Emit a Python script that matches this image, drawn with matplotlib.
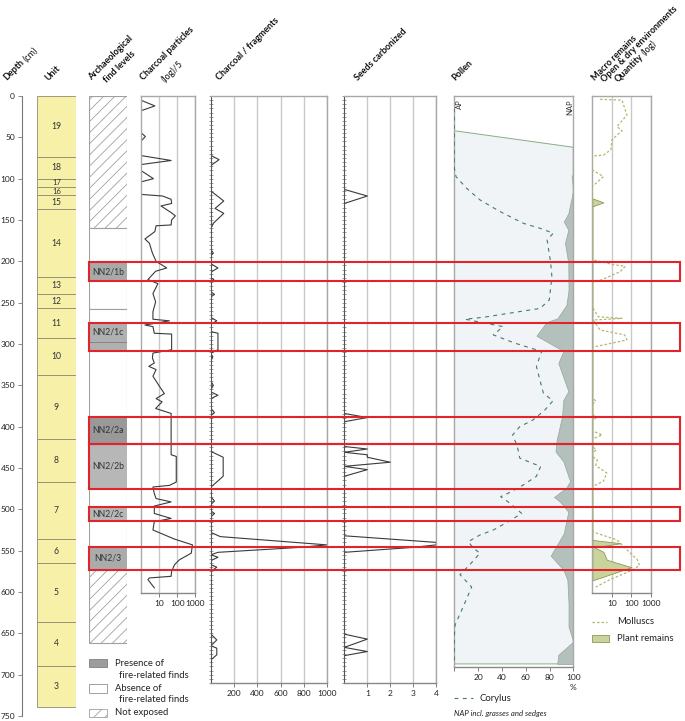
import matplotlib
matplotlib.use('Agg')
import matplotlib.pyplot as plt
from matplotlib.patches import Rectangle
from matplotlib.ticker import MultipleLocator, NullLocator
import numpy as np

plt.rcParams['font.family'] = ['Lato', 'DejaVu Sans']
plt.rcParams['hatch.linewidth'] = 0.6
plt.rcParams['hatch.color'] = '#a8a8a8'

W, H = 685, 721

# ---------------- data ----------------
depth_ticks = list(range(0, 751, 50))

unit_labels = ['19', '18', '17', '16', '15', '14', '13', '12', '11', '10', '9', '8', '7', '6', '5', '4', '3']
unit_tops = [0, 74, 100, 110, 120, 137, 219, 240, 257, 293, 338, 415, 467, 536, 565, 636, 689]
unit_bottoms = [74, 100, 110, 120, 137, 219, 240, 257, 293, 338, 415, 467, 536, 565, 636, 689, 739]

exposure_tops = [0, 160, 258, 573]
exposure_bottoms = [160, 258, 573, 662]
exposure_hatched = [True, False, False, True]

find_labels = ['NN2/1b', 'NN2/1c', 'NN2/2a', 'NN2/2b', 'NN2/2c', 'NN2/3']
find_tops = [201, 274, 388, 421, 497, 545]
find_bottoms = [224, 308, 421, 475, 514, 573]
find_label_depths = [212.5, 285.5, 404.5, 448, 505.5, 559]
find_greys = ['#a9a9a9', '#b0b0b0', '#999999', '#b7b7b7', '#b7b7b7', '#ababab']
find_subdivisions = [297]

# Charcoal particles (log)/5
cp_depth = [5, 12, 18, 44, 49, 55, 72, 78, 83, 90, 100, 104, 119, 121, 125, 130, 133, 141, 145, 150,
            156, 157, 164, 173, 178, 190, 200, 208, 212, 222, 227, 239, 249, 261, 270, 272, 277, 279,
            287, 288, 307, 311, 317, 323, 327, 331, 339, 354, 360, 366, 370, 378, 384, 434, 436, 467,
            471, 473, 481, 487, 491, 496, 505, 511, 515, 525, 536, 543, 553, 561, 567, 575, 581, 583,
            585, 595]
cp_vals = [1, 6, 1, 1, 1.8, 1, 1, 47, 1, 1, 5, 1, 1, 16, 47, 50, 13, 47, 80, 50,
           47, 7, 6, 1.7, 3, 4.4, 7, 27, 6.6, 2.5, 8.8, 4.7, 6.6, 4.7, 4.7, 38, 1.7, 4.7,
           5.6, 50, 50, 4.7, 4.4, 5.6, 2.8, 7, 4.7, 13, 20, 7, 15, 6.6, 47, 47, 90, 90,
           38, 4.7, 5.6, 7, 47, 5.6, 5.6, 47, 5.6, 4.7, 72, 700, 600, 135, 72, 50, 47, 3,
           2.5, 5.6]
cp_ticks = [10, 100, 1000]
cp_ticklabels = ['10', '100', '1000']

# Charcoal / fragments
cf_depth = [0, 72, 77, 84, 115, 127, 136, 142, 154, 160, 186, 190, 193, 203, 208, 213, 220, 222, 225,
            237, 240, 243, 268, 272, 276, 285, 287, 307, 311, 316, 320, 345, 350, 355, 358, 362, 366,
            378, 383, 386, 430, 434, 437, 460, 473, 485, 490, 494, 502, 505, 509, 528, 533, 543, 546,
            552, 555, 558, 562, 567, 570, 575, 651, 658, 665, 668, 676, 682, 710]
cf_vals = [0, 0, 70, 0, 0, 110, 35, 110, 20, 0, 0, 20, 0, 0, 60, 0, 0, 25, 0,
           0, 30, 0, 0, 50, 0, 0, 60, 60, 0, 15, 0, 0, 20, 0, 0, 60, 0,
           0, 30, 0, 0, 60, 105, 105, 0, 0, 30, 0, 0, 30, 0, 0, 80, 1000, 770,
           60, 0, 60, 0, 0, 50, 0, 0, 50, 0, 50, 50, 0, 0]
cf_ticks = [200, 400, 600, 800, 1000]
cf_ticklabels = ['200', '400', '600', '800', '1000']

# Seeds carbonized
sd_depth = [0, 113, 121, 130, 384, 389, 394, 424, 427, 431, 434, 437, 443, 448, 452, 460,
            532, 540, 543, 546, 552, 651, 657, 667, 672, 677, 710]
sd_vals = [0, 0, 1, 0, 0, 1, 0, 0, 1, 0, 1, 1, 2, 0, 1, 0,
           0, 4, 4, 3, 0, 0, 1, 0, 1, 0, 0]
sd_ticks = [1, 2, 3, 4]
sd_ticklabels = ['1', '2', '3', '4']

# Pollen (%), AP/NAP boundary and Corylus
pollen_top_left, pollen_top_right, pollen_bottom = 42, 62, 687
nap_depth = [93.5, 97.5, 113.6, 142, 152, 162, 178, 202, 235, 253, 269, 273.5, 290, 305, 309, 323,
             357, 368, 388, 416, 430, 442, 466, 474, 485, 491, 503, 515, 529, 556, 565, 573, 585,
             614, 642, 660, 665, 676, 687]
nap_ap = [100, 98.6, 100, 95.8, 92, 95.8, 93, 95.8, 96, 94.2, 86.6, 77.6, 69, 87.4, 91.6, 87.4,
          95.8, 91.6, 90.5, 86, 85, 91.6, 97.3, 94, 83.8, 89, 95.8, 94, 92, 81, 86.6, 91.6, 95,
          96, 96, 100, 96, 87.4, 86.5]
cor_depth = [15, 87, 97.5, 111.7, 125.7, 139.8, 154, 160, 166, 174, 202, 218.5, 246.8, 257, 262,
             267.7, 270, 279, 289, 299, 309, 327, 344, 360, 368.6, 380, 392, 400, 410, 424, 438,
             444, 448, 460, 470.5, 478.6, 484.6, 492.8, 505, 516, 525, 531, 539, 547, 553, 567,
             579, 594, 622, 640, 654, 686]
cor_vals = [0, 0, 1.4, 10.4, 21.6, 38.4, 58, 72, 83.2, 78, 81, 82, 79.8, 72, 49.6,
            24.4, 9, 41, 32.8, 51, 73.4, 69, 72, 75, 83, 76, 66, 55, 49, 53, 55,
            65, 72.6, 69, 58, 48, 39, 47, 56.6, 44, 32.8, 21.6, 11.8, 16, 21.6, 13,
            4.8, 14.6, 6.2, 0.6, 0, 0]
pollen_ticks = [0, 20, 40, 60, 80, 100]
pollen_ticklabels = ['', '20', '40', '60', '80', '100']

# Macro remains (log)
mol_depth = [4, 5, 23, 37, 42, 53, 65, 71.5, 72.6, 89.5, 97.5, 109.6, 198, 204, 206, 212.5, 222,
             226, 255, 267, 269, 271, 283, 289, 295, 304, 365, 369, 373, 385, 389, 393, 405, 410,
             415, 424, 428, 432, 436, 440, 447, 456, 466, 472.6, 527, 537, 549, 561, 568, 574,
             585, 594]
mol_vals = [2.5, 33, 59, 18, 33, 10, 8.9, 3.7, 1, 1, 3.7, 1, 1, 12, 48, 27, 3.2,
            1, 1, 2, 33, 1.1, 2.5, 45, 59, 1, 1, 1.5, 1, 1, 1.6, 1, 1, 3.2,
            1, 1, 1.6, 1, 1, 1.8, 1.5, 5.5, 3.7, 1, 1, 18, 59, 200, 260, 100,
            8, 1.5]
plant_depth = [123.8, 128.7, 133.5, 537, 541, 546, 551.5, 561, 570, 586]
plant_vals = [1, 3.7, 1, 1, 28, 1.3, 3.7, 5.5, 100, 1]
macro_ticks = [10, 100, 1000]
macro_ticklabels = ['10', '100', '1000']

# ---------------- layout helpers ----------------
Y0, PXCM = 96.0, 620.0 / 750.0
fig = plt.figure(figsize=(W / 100, H / 100), dpi=100)


def ypx(d):
    return Y0 + d * PXCM


def axpx(x0, x1, y0, y1, **kw):
    return fig.add_axes([x0 / W, 1 - y1 / H, (x1 - x0) / W, (y1 - y0) / H], **kw)


def ftext(x, y, s, **kw):
    return fig.text(x / W, 1 - y / H, s, **kw)


LINE = '#3a3a3a'
SPINE = '#a8a8a8'
GRID = '#c9c9c9'
TICKFS = 6


def panel(ax, xlim, ybottom, ticks, labels, log=False, left_dark=False):
    if log:
        ax.set_xscale('log')
    ax.set_xlim(*xlim)
    ax.set_ylim(ybottom, 0)
    ax.patch.set_alpha(0)
    for name, s in ax.spines.items():
        s.set_color(SPINE)
        s.set_linewidth(1.0)
    ax.spines['bottom'].set_color('#888888')
    if left_dark:
        ax.spines['left'].set_color('#555555')
        ax.spines['left'].set_linewidth(0.8)
        ax.yaxis.set_major_locator(MultipleLocator(5))
        ax.tick_params(axis='y', direction='inout', length=2.2, width=0.5, colors='#777777',
                       labelleft=False)
    else:
        ax.yaxis.set_major_locator(NullLocator())
    ax.yaxis.set_minor_locator(NullLocator())
    ax.set_xticks(ticks)
    ax.set_xticklabels(labels)
    ax.xaxis.set_minor_locator(NullLocator())
    ax.tick_params(axis='x', length=3, width=0.6, colors='#666666', labelsize=TICKFS, pad=2,
                   labelcolor='#222222')
    ax.grid(axis='x', color=GRID, lw=1.0)
    ax.set_axisbelow(True)


# ---------------- depth axis ----------------
axd = axpx(22, 30, ypx(0), ypx(750))
axd.set_ylim(750, 0)
axd.patch.set_alpha(0)
for n in ['top', 'right', 'bottom']:
    axd.spines[n].set_visible(False)
axd.spines['left'].set_color('#777777')
axd.spines['left'].set_linewidth(0.8)
axd.set_xticks([])
axd.set_yticks(depth_ticks)
axd.tick_params(axis='y', length=3, width=0.6, colors='#777777', labelsize=TICKFS, pad=2,
                labelcolor='#222222')

# ---------------- unit column ----------------
axu = axpx(37, 76, ypx(0), ypx(750))
axu.set_xlim(0, 1)
axu.set_ylim(750, 0)
axu.axis('off')
for lab, t, b in zip(unit_labels, unit_tops, unit_bottoms):
    axu.bar(0.5, b - t, bottom=t, width=1, color='#f6f0a8', edgecolor='#8e8c70', lw=0.6)
    fs = 5.5 if b - t < 15 else 6.2
    axu.text(0.5, (t + b) / 2, lab, ha='center', va='center', fontsize=fs, color='#333333')

# ---------------- archaeological find levels ----------------
axa = axpx(89, 127, ypx(0), ypx(750))
axa.set_xlim(0, 1)
axa.set_ylim(750, 0)
axa.axis('off')
for t, b, h in zip(exposure_tops, exposure_bottoms, exposure_hatched):
    axa.bar(0.5, b - t, bottom=t, width=1, color='white', edgecolor='#a0a0a0', lw=0.8,
            hatch='///' if h else None)
for lab, t, b, c, ly in zip(find_labels, find_tops, find_bottoms, find_greys, find_label_depths):
    axa.bar(0.5, b - t, bottom=t, width=1, color=c, edgecolor='#808080', lw=0.6)
    axa.text(0.5, ly, lab, ha='center', va='center', fontsize=6.2, color='#333333')
for d in find_subdivisions:
    axa.axhline(d, color='#808080', lw=0.6)

# ---------------- charcoal particles ----------------
axcp = axpx(140.7, 195.3, ypx(0), ypx(601))
panel(axcp, (1, 1000), 601, cp_ticks, cp_ticklabels, log=True)
axcp.plot(cp_vals, cp_depth, color=LINE, lw=0.8)

# ---------------- charcoal fragments ----------------
axcf = axpx(211, 327, ypx(0), ypx(710))
panel(axcf, (0, 1000), 710, cf_ticks, cf_ticklabels, left_dark=True)
axcf.plot(cf_vals, cf_depth, color=LINE, lw=0.8)

# ---------------- seeds ----------------
axs = axpx(344.3, 436.3, ypx(0), ypx(710))
panel(axs, (0, 4), 710, sd_ticks, sd_ticklabels, left_dark=True)
axs.plot(sd_vals, sd_depth, color=LINE, lw=0.8)

# ---------------- pollen ----------------
axp = axpx(454.3, 573.3, ypx(0), ypx(690.7))
panel(axp, (0, 100), 690.7, pollen_ticks, pollen_ticklabels)
axp.grid(False)
axp.fill([0, 100, 100, 0], [pollen_top_left, pollen_top_right, pollen_bottom, pollen_bottom],
         facecolor='#f1f4f6', edgecolor='#86ad88', lw=0.7, zorder=1)
axp.fill_betweenx(nap_depth, nap_ap, 100, facecolor='#b4c0bb', edgecolor='#95a89b', lw=0.5,
                  zorder=2)
axp.plot(cor_vals, cor_depth, color='#3f7f5f', lw=0.8, dashes=(3.5, 4), zorder=3)
ftext(459.5, 99, 'AP', rotation=90, ha='center', va='top', fontsize=5.5, color='#333333')
ftext(569.5, 99, 'NAP', rotation=90, ha='center', va='top', fontsize=5.5, color='#333333')
ftext(572.5, 688, '%', ha='center', va='center', fontsize=TICKFS, color='#222222')

# ---------------- macro remains ----------------
axm = axpx(592.3, 651, ypx(0), ypx(601))
panel(axm, (1, 1000), 601, macro_ticks, macro_ticklabels, log=True)
axm.fill_betweenx(plant_depth, 1, plant_vals, facecolor='#c9d39b', edgecolor='#8a9a5a', lw=0.6,
                  zorder=2)
axm.plot(mol_vals, mol_depth, color='#b5b56e', lw=0.9, dashes=(2, 1.6), zorder=3)

# ---------------- red highlight boxes ----------------
axr = axpx(89, 680, ypx(0), ypx(750))
axr.set_xlim(0, 1)
axr.set_ylim(750, 0)
axr.axis('off')
axr.set_zorder(20)
for t, b in zip(find_tops, find_bottoms):
    axr.add_patch(Rectangle((0, t), 1, b - t, fill=False, edgecolor='#e3232a', lw=1.5,
                            clip_on=False))

# ---------------- legends (pixel overlay) ----------------
axl = axpx(0, W, 0, H)
axl.set_xlim(0, W)
axl.set_ylim(H, 0)
axl.axis('off')
axl.set_zorder(-1)
axl.add_patch(Rectangle((89.3, 659.3), 17.4, 8, facecolor='#9d9d9d', edgecolor='#808080', lw=0.6))
axl.add_patch(Rectangle((89.3, 684), 17.4, 8.7, facecolor='white', edgecolor='#909090', lw=0.6))
axl.add_patch(Rectangle((89.3, 709), 17.4, 7.7, facecolor='white', edgecolor='#a0a0a0', lw=0.6,
                        hatch='///'))
LFS = 6.8
ftext(114.7, 663.5, 'Presence of', va='center', fontsize=LFS, color='#222222')
ftext(119.3, 675, 'fire-related finds', va='center', fontsize=LFS, color='#222222')
ftext(114.7, 688.3, 'Absence of', va='center', fontsize=LFS, color='#222222')
ftext(119.3, 699.3, 'fire-related finds', va='center', fontsize=LFS, color='#222222')
ftext(114.7, 712.7, 'Not exposed', va='center', fontsize=LFS, color='#222222')

axl.plot([454.3, 473.3], [698.3, 698.3], color='#3f7f5f', lw=0.8, dashes=(3.5, 4))
ftext(480, 698.3, 'Corylus', va='center', fontsize=LFS, color='#222222')
ftext(454.3, 713.3, 'NAP incl. grasses and sedges', va='center', fontsize=5.6, style='italic',
      color='#222222')

axl.plot([592.3, 607.3], [621.7, 621.7], color='#b5b56e', lw=0.9, dashes=(2, 1.6))
ftext(616.7, 621.7, 'Molluscs', va='center', fontsize=LFS, color='#222222')
axl.add_patch(Rectangle((592.3, 635), 17, 7.3, facecolor='#c9d39b', edgecolor='#8a9a5a', lw=0.6))
ftext(616.7, 638.7, 'Plant remains', va='center', fontsize=LFS, color='#222222')

# ---------------- rotated headers ----------------
renderer = fig.canvas.get_renderer()
HFS = 6.5
C45 = np.cos(np.pi / 4)


def header(x, y, parts, fs=HFS):
    cx, cy = x, y
    for s, wt in parts:
        ftext(cx, cy, s, rotation=45, rotation_mode='anchor', ha='left', va='baseline',
              fontsize=fs, fontweight=wt, color='#111111')
        tmp = fig.text(0, 0, s, fontsize=fs, fontweight=wt)
        w = tmp.get_window_extent(renderer).width
        tmp.remove()
        w += 2.2
        cx += w * C45
        cy -= w * C45


header(7, 81, [('Depth', 'bold'), ('(cm)', 'normal')])
header(48.5, 81, [('Unit', 'bold')])
header(92, 81, [('Archaeological', 'bold')])
header(107, 83, [('find levels', 'bold')])
header(144, 81, [('Charcoal particles', 'bold')])
header(165, 83, [('(log)/5', 'normal')])
header(220, 81, [('Charcoal / fragments', 'bold')])
header(358.3, 81, [('Seeds carbonized', 'bold')])
header(455, 81, [('Pollen', 'bold')])
header(595, 81, [('Macro remains', 'bold')])
header(605, 83, [('Open & dry environments', 'bold')])
header(618.3, 83, [('Quantity', 'bold'), ('(log)', 'normal')])

fig.savefig('out.png', dpi=100)
